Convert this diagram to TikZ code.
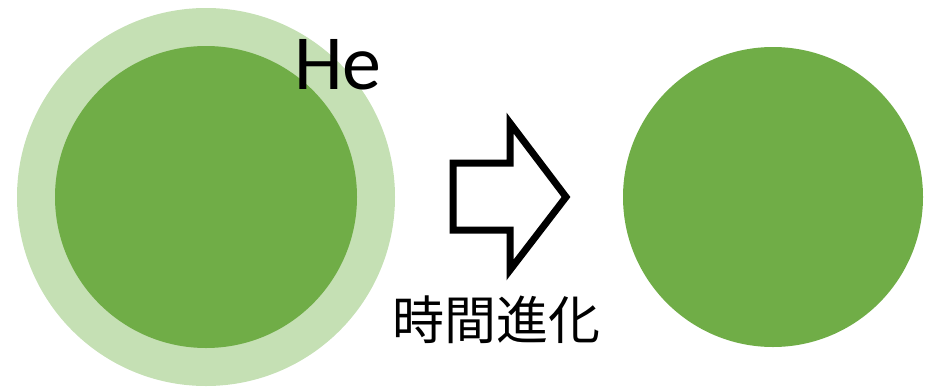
\documentclass[tikz,border=0pt]{standalone}
\usepackage{fontspec}
\setmainfont{Carlito}
\newfontfamily\cjk{Noto Sans CJK JP}
\definecolor{dkgreen}{HTML}{70AD47}
\definecolor{ltgreen}{HTML}{C5E0B4}
\begin{document}
\begin{tikzpicture}[x=1pt,y=-1pt,
  ball/.style={circle,fill=dkgreen,draw=none,inner sep=0pt},
  shell/.style={circle,fill=ltgreen,draw=none,inner sep=0pt},
  lbl/.style={inner sep=0pt,text=black}]
\useasboundingbox (0,0) rectangle (934,386);
\node[shell,minimum size=378pt] (outer) at (206,197) {};
\node[ball,minimum size=302pt] (inner) at (206,197) {};
\node[ball,minimum size=300pt] (right) at (773,197) {};
\node[lbl,font=\fontsize{78}{78}\selectfont] (he) at (338,65) {He};
\draw[line width=7pt,line join=miter,fill=white]
  (453,163) -- (510,163) -- (510,123) -- (566,197) -- (510,270) -- (510,230) -- (453,230) -- cycle;
\node[lbl,font=\cjk\fontsize{52}{52}\selectfont] (t) at (496,320) {時間進化};
\end{tikzpicture}
\end{document}
